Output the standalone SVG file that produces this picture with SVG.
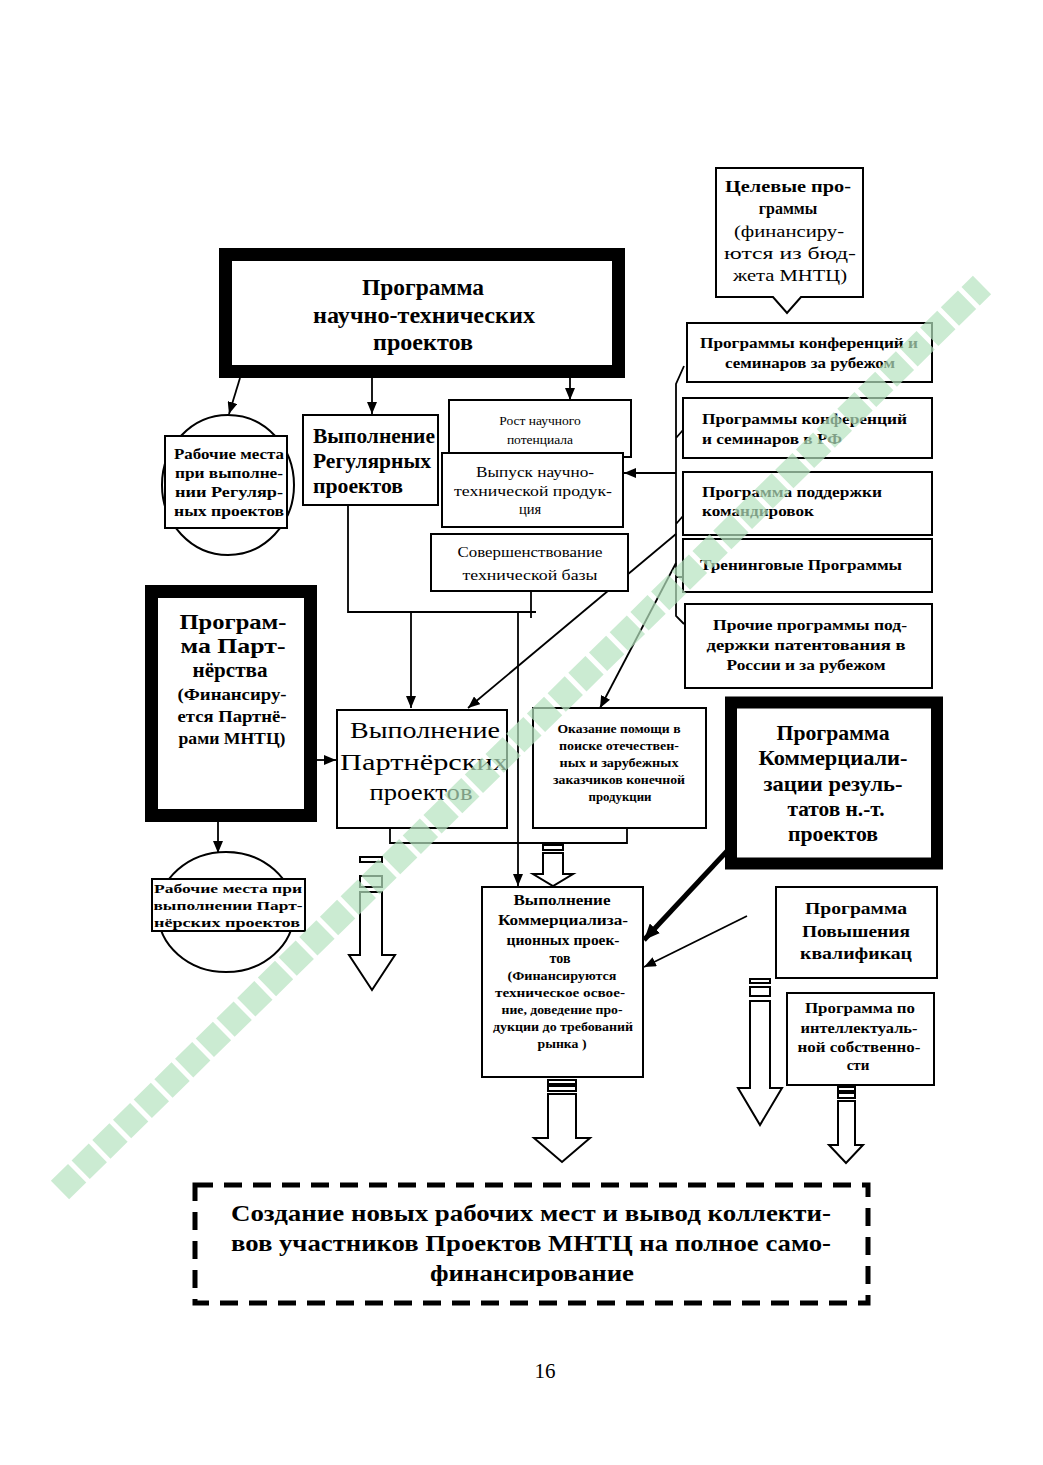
<svg xmlns="http://www.w3.org/2000/svg" width="1043" height="1465" viewBox="0 0 1043 1465">
<style>
.bg{fill:#fff}
.b{fill:#fff;stroke:#000;stroke-width:2}
.tk{fill:#fff;stroke:#000}
.ln{fill:none;stroke:#000;stroke-width:1.8}
.lnt{fill:none;stroke:#000;stroke-width:5}
.blk{fill:#fff;stroke:#000;stroke-width:2}
.t{font-family:"Liberation Serif","Times New Roman",serif;fill:#000}
.bd{font-weight:bold}
.c{text-anchor:middle}
</style>
<defs>
<marker id="ah" markerUnits="userSpaceOnUse" markerWidth="12" markerHeight="10" refX="12" refY="5" orient="auto"><path d="M0,0 L12,5 L0,10 z" fill="#000"/></marker>
<marker id="ahb" markerUnits="userSpaceOnUse" markerWidth="16" markerHeight="14" refX="16" refY="7" orient="auto"><path d="M0,0 L16,7 L0,14 z" fill="#000"/></marker>
</defs>
<rect class="bg" x="0" y="0" width="1043" height="1465"/>

<g id="connectors">
<line class="ln" x1="240" y1="378" x2="229" y2="414" marker-end="url(#ah)"/>
<line class="ln" x1="372" y1="378" x2="372" y2="414" marker-end="url(#ah)"/>
<line class="ln" x1="570" y1="378" x2="570" y2="400" marker-end="url(#ah)"/>
<path class="ln" d="M348,505 V612 H536"/>
<path class="ln" d="M531,591 V618"/>
<line class="ln" x1="411" y1="612" x2="411" y2="708" marker-end="url(#ah)"/>
<line class="ln" x1="518" y1="612" x2="518" y2="886" marker-end="url(#ah)"/>
<path class="ln" d="M684,366 L676,384 L676,616 L684,624 M676,438 L683,430 M676,524 L683,516 M676,577 L685,577"/>
<line class="ln" x1="676" y1="473" x2="624" y2="473" marker-end="url(#ah)"/>
<line class="ln" x1="676" y1="534" x2="468" y2="708" marker-end="url(#ah)"/>
<line class="ln" x1="676" y1="563" x2="600" y2="708" marker-end="url(#ah)"/>
<line class="ln" x1="317" y1="760" x2="336" y2="760" marker-end="url(#ah)"/>
<line class="ln" x1="218" y1="822" x2="218" y2="853" marker-end="url(#ah)"/>
<path class="ln" d="M390,828 V843 H627 V828"/>
<line class="lnt" x1="728" y1="850" x2="644" y2="940" marker-end="url(#ahb)"/>
<line class="ln" x1="747" y1="916" x2="644" y2="967" marker-end="url(#ah)"/>
<g id="block-arrows">
<rect class="blk" x="360" y="857" width="22" height="5"/>
<rect class="blk" x="360" y="876" width="22" height="11"/>
<path class="blk" d="M360,892 H382 V955 H395 L372,990 L349,955 H360 Z"/>
<rect class="blk" x="543" y="845" width="20" height="5"/>
<path class="blk" d="M543,853 H563 V874 H573 L553,886 L533,874 H543 Z"/>
<rect class="blk" x="750" y="979" width="20" height="4"/>
<rect class="blk" x="750" y="987" width="20" height="9"/>
<path class="blk" d="M750,1001 H770 V1088 H782 L760,1125 L738,1088 H750 Z"/>
<rect class="blk" x="838" y="1087" width="17" height="4"/>
<rect class="blk" x="838" y="1093" width="17" height="5"/>
<path class="blk" d="M838,1101 H855 V1145 H863 L846,1163 L829,1145 H838 Z"/>
<rect class="blk" x="548" y="1080" width="28" height="4"/>
<rect class="blk" x="548" y="1086" width="28" height="5"/>
<path class="blk" d="M548,1094 H576 V1138 H590 L562,1162 L534,1138 H548 Z"/>
</g>
</g>

<g id="n-main">
<rect class="tk" x="225.5" y="254.5" width="393" height="117" stroke-width="13"/>
<text class="t bd c" font-size="23" x="423" y="295" textLength="122" lengthAdjust="spacingAndGlyphs">Программа</text>
<text class="t bd c" font-size="23" x="424" y="323" textLength="222" lengthAdjust="spacingAndGlyphs">научно-технических</text>
<text class="t bd c" font-size="23" x="423" y="350" textLength="100" lengthAdjust="spacingAndGlyphs">проектов</text>
</g>

<g id="n-jobs-regular">
<ellipse class="b" cx="228" cy="485" rx="66" ry="70"/>
<rect class="b" x="165" y="436" width="122" height="92"/>
<text class="t bd c" font-size="14" x="229" y="459" textLength="110" lengthAdjust="spacingAndGlyphs">Рабочие места</text>
<text class="t bd c" font-size="14" x="229" y="478" textLength="108" lengthAdjust="spacingAndGlyphs">при выполне-</text>
<text class="t bd c" font-size="14" x="229" y="497" textLength="108" lengthAdjust="spacingAndGlyphs">нии Регуляр-</text>
<text class="t bd c" font-size="14" x="229" y="516" textLength="110" lengthAdjust="spacingAndGlyphs">ных проектов</text>
</g>

<g id="n-regular">
<rect class="b" x="303" y="415" width="135" height="90"/>
<text class="t bd" font-size="21" x="313" y="443" textLength="122" lengthAdjust="spacingAndGlyphs">Выполнение</text>
<text class="t bd" font-size="21" x="313" y="468" textLength="118" lengthAdjust="spacingAndGlyphs">Регулярных</text>
<text class="t bd" font-size="21" x="313" y="493" textLength="90" lengthAdjust="spacingAndGlyphs">проектов</text>
</g>

<g id="n-growth">
<rect class="b" x="449" y="400" width="182" height="57"/>
<text class="t c" font-size="13.5" x="540" y="425">Рост научного</text>
<text class="t c" font-size="13.5" x="540" y="444">потенциала</text>
</g>

<g id="n-output">
<rect class="b" x="442" y="453" width="181" height="74"/>
<text class="t c" font-size="14.5" x="535" y="477" textLength="118" lengthAdjust="spacingAndGlyphs">Выпуск научно-</text>
<text class="t c" font-size="14.5" x="533" y="496" textLength="158" lengthAdjust="spacingAndGlyphs">технической продук-</text>
<text class="t c" font-size="14.5" x="530" y="514">ция</text>
</g>

<g id="n-base">
<rect class="b" x="431" y="534" width="197" height="57"/>
<text class="t c" font-size="15" x="530" y="557" textLength="145" lengthAdjust="spacingAndGlyphs">Совершенствование</text>
<text class="t c" font-size="15" x="530" y="580" textLength="135" lengthAdjust="spacingAndGlyphs">технической базы</text>
</g>

<g id="n-target">
<path class="b" d="M716,168 H863 V297 H801 L787,313 L773,297 H716 Z"/>
<text class="t bd c" font-size="16" x="788" y="192" textLength="126" lengthAdjust="spacingAndGlyphs">Целевые про-</text>
<text class="t bd c" font-size="16" x="788" y="214">граммы</text>
<text class="t c" font-size="16" x="789" y="237" textLength="110" lengthAdjust="spacingAndGlyphs">(финансиру-</text>
<text class="t c" font-size="16" x="790" y="259" textLength="132" lengthAdjust="spacingAndGlyphs">ются из  бюд-</text>
<text class="t c" font-size="16" x="790" y="281" textLength="114" lengthAdjust="spacingAndGlyphs">жета МНТЦ)</text>
</g>

<g id="n-conf-abroad">
<rect class="b" x="687" y="323" width="245" height="59"/>
<text class="t bd c" font-size="15" x="809" y="348" textLength="218" lengthAdjust="spacingAndGlyphs">Программы конференций и</text>
<text class="t bd c" font-size="15" x="810" y="368" textLength="170" lengthAdjust="spacingAndGlyphs">семинаров за рубежом</text>
</g>

<g id="n-conf-rf">
<rect class="b" x="683" y="398" width="249" height="60"/>
<text class="t bd" font-size="15.5" x="702" y="424" textLength="205" lengthAdjust="spacingAndGlyphs">Программы конференций</text>
<text class="t bd" font-size="15.5" x="702" y="444" textLength="140" lengthAdjust="spacingAndGlyphs">и семинаров в РФ</text>
</g>

<g id="n-trips">
<rect class="b" x="683" y="472" width="249" height="63"/>
<text class="t bd" font-size="15.5" x="702" y="497" textLength="180" lengthAdjust="spacingAndGlyphs">Программа поддержки</text>
<text class="t bd" font-size="15.5" x="702" y="516" textLength="112" lengthAdjust="spacingAndGlyphs">командировок</text>
</g>

<g id="n-training">
<rect class="b" x="683" y="539" width="249" height="53"/>
<text class="t bd" font-size="15" x="700" y="570" textLength="202" lengthAdjust="spacingAndGlyphs">Тренинговые Программы</text>
</g>

<g id="n-patent">
<rect class="b" x="685" y="604" width="247" height="84"/>
<text class="t bd c" font-size="15" x="810" y="630" textLength="194" lengthAdjust="spacingAndGlyphs">Прочие программы под-</text>
<text class="t bd c" font-size="15" x="806" y="650" textLength="199" lengthAdjust="spacingAndGlyphs">держки патентования в</text>
<text class="t bd c" font-size="15" x="806" y="670" textLength="159" lengthAdjust="spacingAndGlyphs">России и за рубежом</text>
</g>

<g id="n-partner-prog">
<rect class="tk" x="151.5" y="591.5" width="159" height="224" stroke-width="13"/>
<text class="t bd c" font-size="21" x="233" y="629" textLength="107" lengthAdjust="spacingAndGlyphs">Програм-</text>
<text class="t bd c" font-size="21" x="233" y="653" textLength="105" lengthAdjust="spacingAndGlyphs">ма Парт-</text>
<text class="t bd c" font-size="21" x="230" y="677" textLength="75" lengthAdjust="spacingAndGlyphs">нёрства</text>
<text class="t bd c" font-size="17" x="232" y="700" textLength="109" lengthAdjust="spacingAndGlyphs">(Финансиру-</text>
<text class="t bd c" font-size="17" x="232" y="722" textLength="109" lengthAdjust="spacingAndGlyphs">ется Партнё-</text>
<text class="t bd c" font-size="17" x="232" y="744" textLength="107" lengthAdjust="spacingAndGlyphs">рами МНТЦ)</text>
</g>

<g id="n-partner">
<rect class="b" x="337" y="710" width="170" height="118"/>
<text class="t c" font-size="24" x="425" y="738" textLength="150" lengthAdjust="spacingAndGlyphs">Выполнение</text>
<text class="t c" font-size="24" x="424" y="770" textLength="168" lengthAdjust="spacingAndGlyphs">Партнёрских</text>
<text class="t c" font-size="24" x="421" y="800" textLength="103" lengthAdjust="spacingAndGlyphs">проектов</text>
</g>

<g id="n-help">
<rect class="b" x="533" y="708" width="173" height="120"/>
<text class="t bd c" font-size="12.5" x="619" y="733" textLength="123" lengthAdjust="spacingAndGlyphs">Оказание помощи в</text>
<text class="t bd c" font-size="12.5" x="619" y="750" textLength="120" lengthAdjust="spacingAndGlyphs">поиске отечествен-</text>
<text class="t bd c" font-size="12.5" x="619" y="767" textLength="119" lengthAdjust="spacingAndGlyphs">ных и зарубежных</text>
<text class="t bd c" font-size="12.5" x="619" y="784" textLength="132" lengthAdjust="spacingAndGlyphs">заказчиков конечной</text>
<text class="t bd c" font-size="12.5" x="620" y="801" textLength="63" lengthAdjust="spacingAndGlyphs">продукции</text>
</g>

<g id="n-jobs-partner">
<ellipse class="b" cx="226" cy="912" rx="68" ry="60"/>
<rect class="b" x="152" y="879" width="153" height="52"/>
<text class="t bd c" font-size="13.5" x="228" y="893" textLength="148" lengthAdjust="spacingAndGlyphs">Рабочие места при</text>
<text class="t bd c" font-size="13.5" x="228" y="910" textLength="149" lengthAdjust="spacingAndGlyphs">выполнении Парт-</text>
<text class="t bd c" font-size="13.5" x="227" y="927" textLength="146" lengthAdjust="spacingAndGlyphs">нёрских проектов</text>
</g>

<g id="n-comm-prog">
<rect class="tk" x="731" y="702.5" width="206" height="161" stroke-width="12"/>
<text class="t bd c" font-size="21" x="833" y="740" textLength="113" lengthAdjust="spacingAndGlyphs">Программа</text>
<text class="t bd c" font-size="21" x="833" y="765" textLength="149" lengthAdjust="spacingAndGlyphs">Коммерциали-</text>
<text class="t bd c" font-size="21" x="833" y="791" textLength="139" lengthAdjust="spacingAndGlyphs">зации резуль-</text>
<text class="t bd c" font-size="21" x="836" y="816" textLength="97" lengthAdjust="spacingAndGlyphs">татов н.-т.</text>
<text class="t bd c" font-size="21" x="833" y="841" textLength="90" lengthAdjust="spacingAndGlyphs">проектов</text>
</g>

<g id="n-comm">
<rect class="b" x="482" y="887" width="161" height="190"/>
<text class="t bd c" font-size="14" x="562" y="905" textLength="97" lengthAdjust="spacingAndGlyphs">Выполнение</text>
<text class="t bd c" font-size="14" x="563" y="925" textLength="130" lengthAdjust="spacingAndGlyphs">Коммерциализа-</text>
<text class="t bd c" font-size="14" x="563" y="945" textLength="113" lengthAdjust="spacingAndGlyphs">ционных проек-</text>
<text class="t bd c" font-size="14" x="560" y="963">тов</text>
<text class="t bd c" font-size="12" x="562" y="980" textLength="109" lengthAdjust="spacingAndGlyphs">(Финансируются</text>
<text class="t bd c" font-size="12" x="560" y="997" textLength="130" lengthAdjust="spacingAndGlyphs">техническое освое-</text>
<text class="t bd c" font-size="12" x="562" y="1014" textLength="121" lengthAdjust="spacingAndGlyphs">ние, доведение про-</text>
<text class="t bd c" font-size="12" x="563" y="1031" textLength="140" lengthAdjust="spacingAndGlyphs">дукции до требований</text>
<text class="t bd c" font-size="12" x="562" y="1048" textLength="49" lengthAdjust="spacingAndGlyphs">рынка )</text>
</g>

<g id="n-qual">
<rect class="b" x="776" y="887" width="161" height="91"/>
<text class="t bd c" font-size="17.5" x="856" y="914" textLength="102" lengthAdjust="spacingAndGlyphs">Программа</text>
<text class="t bd c" font-size="17.5" x="856" y="937" textLength="108" lengthAdjust="spacingAndGlyphs">Повышения</text>
<text class="t bd c" font-size="17.5" x="856" y="959" textLength="112" lengthAdjust="spacingAndGlyphs">квалификац</text>
</g>

<g id="n-ip">
<rect class="b" x="787" y="993" width="147" height="92"/>
<text class="t bd c" font-size="15" x="860" y="1013" textLength="110" lengthAdjust="spacingAndGlyphs">Программа по</text>
<text class="t bd c" font-size="15" x="859" y="1033" textLength="117" lengthAdjust="spacingAndGlyphs">интеллектуаль-</text>
<text class="t bd c" font-size="15" x="859" y="1052" textLength="123" lengthAdjust="spacingAndGlyphs">ной собственно-</text>
<text class="t bd c" font-size="15" x="858" y="1070">сти</text>
</g>

<g id="n-result">
<rect x="195" y="1185" width="673" height="118" fill="#fff" stroke="#000" stroke-width="5" stroke-dasharray="18 11"/>
<text class="t bd c" font-size="23" x="531" y="1221" textLength="600" lengthAdjust="spacingAndGlyphs">Создание новых рабочих мест и вывод коллекти-</text>
<text class="t bd c" font-size="23" x="531" y="1251" textLength="600" lengthAdjust="spacingAndGlyphs">вов участников Проектов МНТЦ на полное само-</text>
<text class="t bd c" font-size="23" x="532" y="1281" textLength="204" lengthAdjust="spacingAndGlyphs">финансирование</text>
</g>

<text class="t c" font-size="21" x="545" y="1378">16</text>

<g id="watermark">
<line x1="60" y1="1190" x2="982" y2="285" stroke="#b6e3bf" stroke-width="26" stroke-dasharray="24 5" opacity="0.7"/>
</g>
</svg>
